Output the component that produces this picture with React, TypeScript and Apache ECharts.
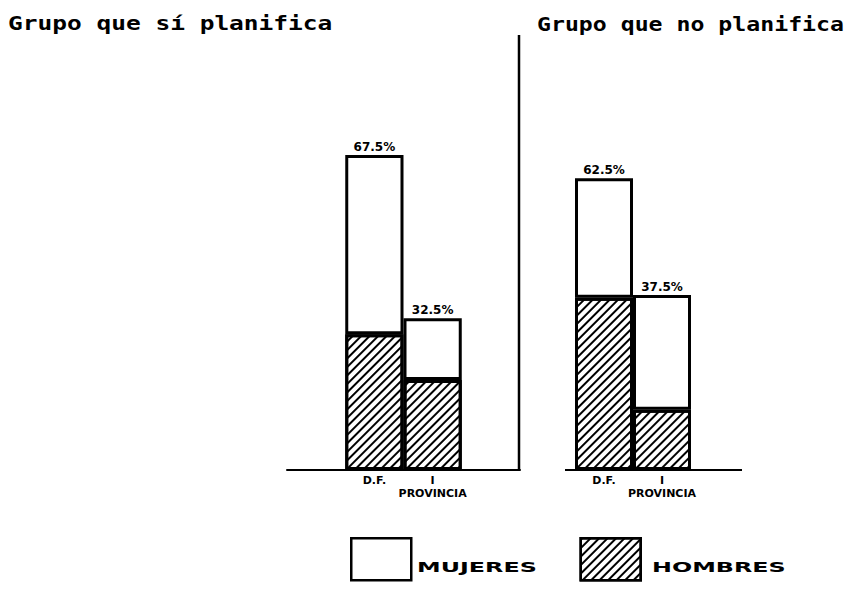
import React, { useEffect, useRef } from "react";
import * as echarts from "echarts";

const categories = ["", "D.F.", "PROVINCIA", ""];
const groupTitles = ["Grupo que sí planifica", "Grupo que no planifica"];
const legendNames = ["MUJERES", "HOMBRES"];
// percentages written above the columns (total column height)
const totalSi = [67.5, 32.5];
const totalNo = [62.5, 37.5];
// hatched part (HOMBRES)
const hombresSi = [29.1, 19.3];
const hombresNo = [36.9, 12.9];

const hatch = {
  symbol: "rect",
  symbolSize: 1,
  dashArrayX: [1, 0],
  dashArrayY: [2, 4],
  rotation: -Math.PI / 4,
  color: "#000",
};

const pad = (arr: (number | string)[]) => ["-", ...arr, "-"];

export default function App() {
  const ref = useRef<HTMLDivElement>(null);
  useEffect(() => {
    if (!ref.current) return;
    const chart = echarts.init(ref.current, null, { renderer: "svg" });
    const mujeresSi = totalSi.map((t, i) => +(t - hombresSi[i]).toFixed(1));
    const mujeresNo = totalNo.map((t, i) => +(t - hombresNo[i]).toFixed(1));
    const totals = [totalSi, totalNo];

    const axisLabel = {
      interval: 0,
      margin: 4,
      formatter: (v: string) =>
        v === "PROVINCIA" ? "{t|I}\n{a|PROVINCIA}" : v ? "{a|" + v + "}" : "",
      rich: {
        a: { fontFamily: "DejaVu Sans", fontWeight: "bold", fontSize: 11, color: "#000", lineHeight: 13 },
        t: { fontFamily: "DejaVu Sans", fontWeight: "bold", fontSize: 11, color: "#000", lineHeight: 13 },
      },
    };

    const barBase = {
      type: "bar",
      barCategoryGap: "0%",
      barGap: "0%",
    };

    const makeSeries = (gi: number, hom: number[], muj: number[]) => [
      {
        ...barBase,
        name: "HOMBRES",
        xAxisIndex: gi,
        yAxisIndex: gi,
        stack: "g" + gi,
        data: pad(hom),
        itemStyle: { color: "#fff", borderColor: "#000", borderWidth: 3, decal: hatch },
      },
      {
        ...barBase,
        name: "MUJERES",
        xAxisIndex: gi,
        yAxisIndex: gi,
        stack: "g" + gi,
        data: pad(muj),
        itemStyle: { color: "#fff", borderColor: "#000", borderWidth: 3 },
        label: {
          show: true,
          position: "top",
          distance: 2,
          fontFamily: "DejaVu Sans",
          fontWeight: "bold",
          fontSize: 12,
          color: "#000",
          formatter: (p: any) => totals[gi][p.dataIndex - 1] + "%",
        },
      },
    ];

    const titleText = (text: string, x: number, sx: number) => ({
      type: "text",
      x,
      y: 24,
      scaleX: sx,
      style: {
        text,
        fontFamily: "DejaVu Sans Mono",
        fontWeight: "bold",
        fontSize: 19,
        fill: "#000",
        textVerticalAlign: "middle",
        verticalAlign: "middle",
      },
    });

    const legendText = (text: string, x: number) => ({
      type: "text",
      x,
      y: 567,
      scaleX: 1.7,
      style: {
        text,
        fontFamily: "DejaVu Sans",
        fontWeight: "bold",
        fontSize: 14,
        fill: "#000",
        verticalAlign: "middle",
        textVerticalAlign: "middle",
      },
    });

    chart.setOption({
      animation: false,
      backgroundColor: "#fff",
      grid: [
        { left: 287, width: 233, top: 143.3, bottom: 121 },
        { left: 517, width: 232, top: 143.3, bottom: 121 },
      ],
      xAxis: [
        {
          type: "category",
          gridIndex: 0,
          data: categories,
          axisLine: { lineStyle: { color: "#000", width: 2 } },
          axisTick: { show: false },
          axisLabel,
        },
        {
          type: "category",
          gridIndex: 1,
          data: categories,
          axisLine: { show: false },
          axisTick: { show: false },
          axisLabel,
        },
      ],
      yAxis: [
        { type: "value", gridIndex: 0, min: 0, max: 70, show: false },
        { type: "value", gridIndex: 1, min: 0, max: 70, show: false },
      ],
      legend: {
        left: 350,
        top: 537,
        padding: 0,
        itemWidth: 60,
        itemHeight: 42,
        itemGap: 167,
        icon: "rect",
        selectedMode: false,
        data: legendNames,
        formatter: () => "",
        itemStyle: { borderColor: "#000", borderWidth: 2.5 },
      },
      series: [...makeSeries(0, hombresSi, mujeresSi), ...makeSeries(1, hombresNo, mujeresNo)],
      graphic: [
        titleText(groupTitles[0], 8, 1.29),
        titleText(groupTitles[1], 537, 1.22),
        {
          type: "line",
          shape: { x1: 519, y1: 35, x2: 519, y2: 470 },
          style: { stroke: "#000", lineWidth: 2.5 },
        },
        {
          type: "line",
          shape: { x1: 565, y1: 470, x2: 742, y2: 470 },
          style: { stroke: "#000", lineWidth: 2 },
        },
        legendText(legendNames[0], 417),
        legendText(legendNames[1], 652),
      ],
    });
    return () => chart.dispose();
  }, []);
  return (
    <div
      ref={ref}
      style={{ position: "fixed", left: 0, top: 0, width: 860, height: 591, background: "#fff" }}
    />
  );
}
